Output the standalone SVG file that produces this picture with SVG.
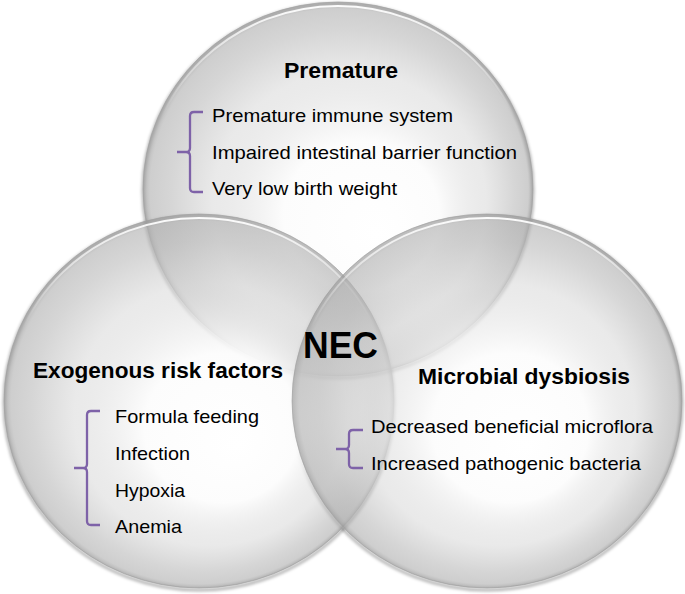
<svg xmlns="http://www.w3.org/2000/svg" width="685" height="594" viewBox="0 0 685 594">
  <defs>
    <radialGradient id="fillG" cx="0.5" cy="0.5" r="0.5" fx="0.6" fy="0.62">
      <stop offset="0" stop-color="#ffffff" stop-opacity="1"/>
      <stop offset="0.4" stop-color="#fcfcfc" stop-opacity="0.95"/>
      <stop offset="0.7" stop-color="#d8d8d8" stop-opacity="0.55"/>
      <stop offset="0.88" stop-color="#b8b8b8" stop-opacity="0.58"/>
      <stop offset="0.97" stop-color="#b0b0b0" stop-opacity="0.62"/>
      <stop offset="1" stop-color="#999999" stop-opacity="0.7"/>
    </radialGradient>
    <linearGradient id="hlG" x1="0" y1="0" x2="0" y2="1">
      <stop offset="0" stop-color="#ffffff" stop-opacity="0.95"/>
      <stop offset="0.3" stop-color="#ffffff" stop-opacity="0"/>
    </linearGradient>
    <filter id="blur" x="-10%" y="-10%" width="120%" height="120%">
      <feGaussianBlur stdDeviation="1.6"/>
    </filter>
  </defs>
  <style>
    .shadow { fill: none; stroke: #000; stroke-opacity: 0.3; stroke-width: 3; filter: url(#blur); }
    .disc { fill: url(#fillG); stroke: #a0a0a0; stroke-opacity: 0.6; stroke-width: 1; }
    .hl { fill: none; stroke: url(#hlG); stroke-width: 2; }
    .head { font-family: "Liberation Sans", Arial, sans-serif; font-weight: bold; font-size: 22px; fill: #000; }
    .item { font-family: "Liberation Sans", Arial, sans-serif; font-size: 19px; fill: #000; }
    .nec { font-family: "Liberation Sans", Arial, sans-serif; font-weight: bold; font-size: 36px; fill: #000; }
    .brace { fill: none; stroke: #7e62a8; stroke-width: 2.3; stroke-linecap: butt; stroke-linejoin: round; }
  </style>
  <rect width="685" height="594" fill="#ffffff"/>

  <g id="shadows">
    <ellipse class="shadow" cx="338" cy="191" rx="195" ry="187"/>
    <ellipse class="shadow" cx="199" cy="403" rx="195" ry="187"/>
    <ellipse class="shadow" cx="487" cy="403" rx="195" ry="187"/>
  </g>

  <g id="premature">
    <ellipse class="disc" cx="338" cy="189" rx="195" ry="187"/>
    <ellipse class="hl" cx="338" cy="190" rx="192" ry="184"/>
  </g>
  <g id="exogenous">
    <ellipse class="disc" cx="199" cy="401" rx="195" ry="187"/>
    <ellipse class="hl" cx="199" cy="402" rx="192" ry="184"/>
  </g>
  <g id="microbial">
    <ellipse class="disc" cx="487" cy="401" rx="195" ry="187"/>
    <ellipse class="hl" cx="487" cy="402" rx="192" ry="184"/>
  </g>

  <g id="premature-text">
    <text class="head" x="284" y="78" textLength="114" lengthAdjust="spacingAndGlyphs">Premature</text>
    <path class="brace" d="M203,112 H194 Q190,112 190,116 V148 Q190,152 186,152 H177 M186,152 Q190,152 190,156 V188 Q190,192 194,192 H203"/>
    <text class="item" x="212" y="122" textLength="241" lengthAdjust="spacingAndGlyphs">Premature immune system</text>
    <text class="item" x="212" y="158.5" textLength="305" lengthAdjust="spacingAndGlyphs">Impaired intestinal barrier function</text>
    <text class="item" x="212" y="195" textLength="185" lengthAdjust="spacingAndGlyphs">Very low birth weight</text>
  </g>

  <g id="exogenous-text">
    <text class="head" x="33" y="378" textLength="250" lengthAdjust="spacingAndGlyphs">Exogenous risk factors</text>
    <path class="brace" d="M100,411 H91 Q87,411 87,415 V464 Q87,468 83,468 H74 M83,468 Q87,468 87,472 V521 Q87,525 91,525 H100"/>
    <text class="item" x="115" y="423" textLength="144" lengthAdjust="spacingAndGlyphs">Formula feeding</text>
    <text class="item" x="115" y="460" textLength="75" lengthAdjust="spacingAndGlyphs">Infection</text>
    <text class="item" x="115" y="497" textLength="70" lengthAdjust="spacingAndGlyphs">Hypoxia</text>
    <text class="item" x="115" y="533" textLength="67" lengthAdjust="spacingAndGlyphs">Anemia</text>
  </g>

  <g id="microbial-text">
    <text class="head" x="418" y="384" textLength="212" lengthAdjust="spacingAndGlyphs">Microbial dysbiosis</text>
    <path class="brace" d="M363,430 H353 Q349,430 349,434 V445 Q349,449 345,449 H336 M345,449 Q349,449 349,453 V464 Q349,468 353,468 H363"/>
    <text class="item" x="371" y="433" textLength="282" lengthAdjust="spacingAndGlyphs">Decreased beneficial microflora</text>
    <text class="item" x="371" y="470" textLength="270" lengthAdjust="spacingAndGlyphs">Increased pathogenic bacteria</text>
  </g>

  <g id="nec">
    <text class="nec" x="303" y="358" textLength="75" lengthAdjust="spacingAndGlyphs">NEC</text>
  </g>

  <g id="connectors"/>
</svg>
